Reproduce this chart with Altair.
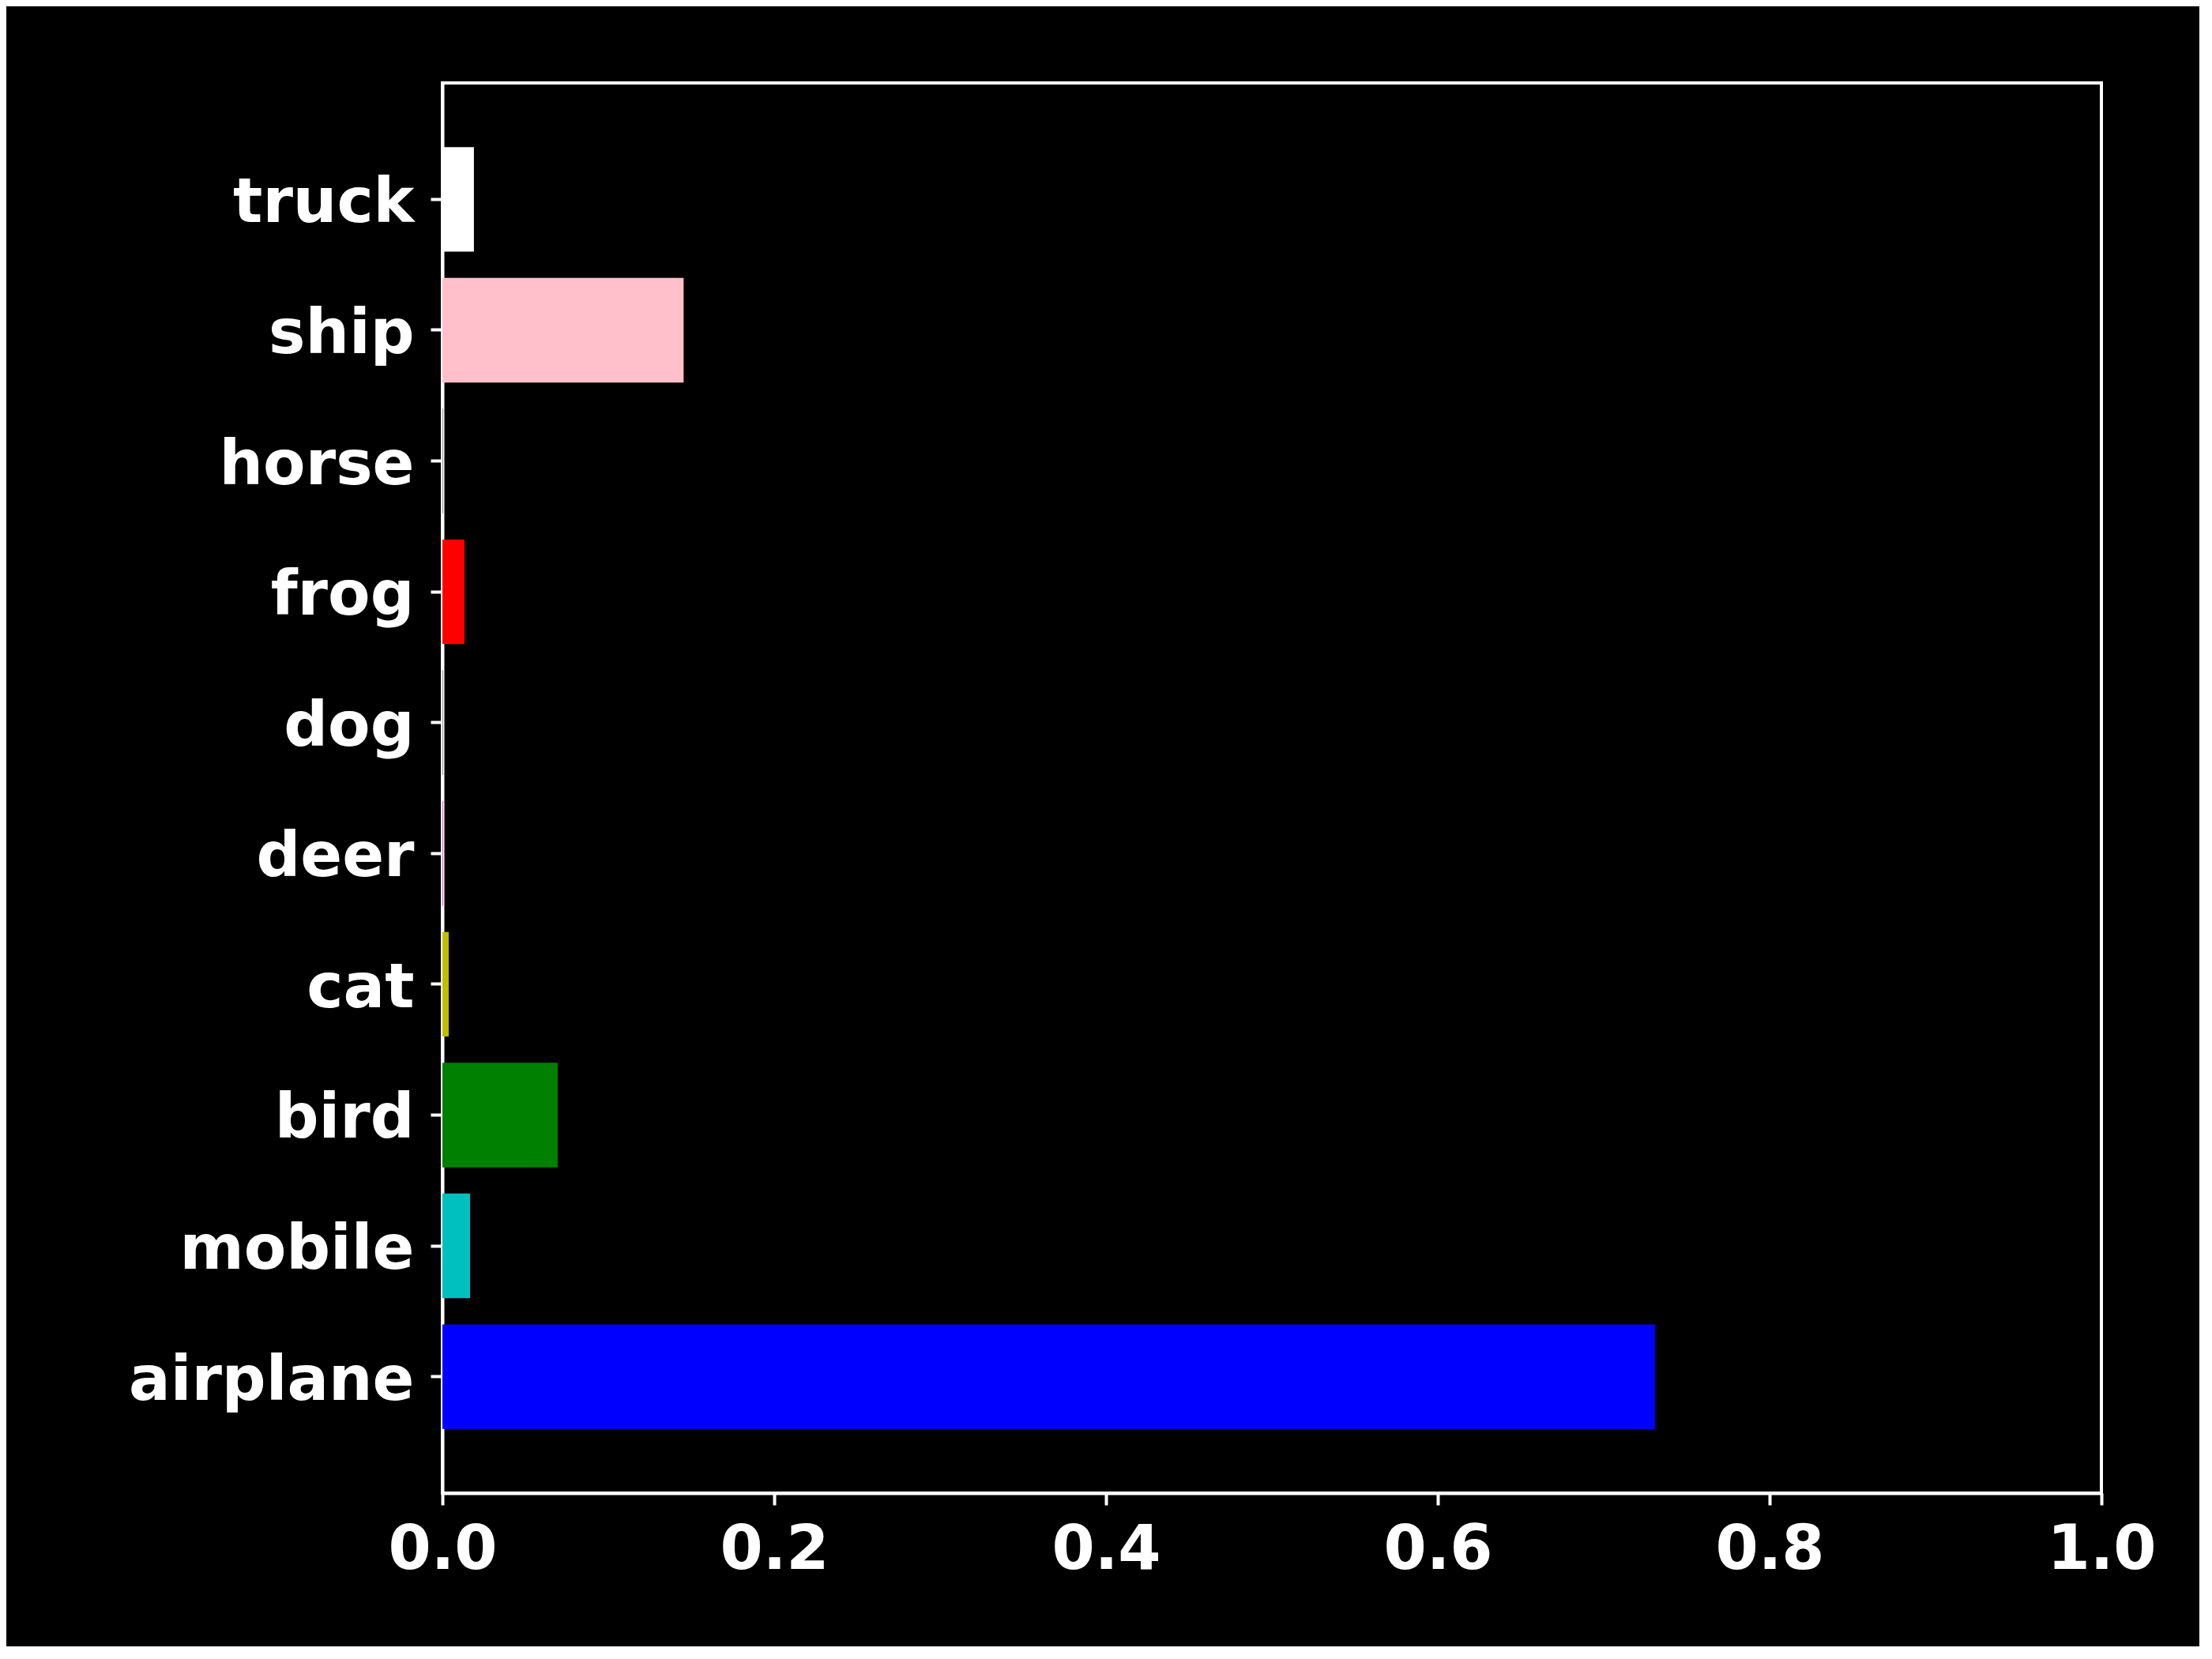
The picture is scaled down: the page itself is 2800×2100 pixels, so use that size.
import altair as alt
import pandas as pd

categories = ["airplane", "mobile", "bird", "cat", "deer", "dog", "frog", "horse", "ship", "truck"]
values = [0.731, 0.0167, 0.0695, 0.0038, 0.0003, 0.0002, 0.0133, 0.0002, 0.1454, 0.019]
colors = ["#0000ff", "#00bfbf", "#008000", "#bfbf00", "#bf00bf", "#000000", "#ff0000", "#000000", "#ffc0cb", "#ffffff"]
x_ticks = [0.0, 0.2, 0.4, 0.6, 0.8, 1.0]

df = pd.DataFrame({"category": categories, "prob": values, "color": colors})

font = "DejaVu Sans"

chart = alt.Chart(df).mark_bar().encode(
    y=alt.Y(
        "category:N",
        sort=list(reversed(categories)),
        scale=alt.Scale(paddingInner=0.2, paddingOuter=0.49),
        axis=alt.Axis(
            title=None,
            labelFont=font,
            labelFontSize=78,
            labelFontWeight="bold",
            labelColor="white",
            labelPadding=21,
            labelLimit=0,
            labelOffset=6,
            tickColor="white",
            tickWidth=4,
            tickSize=15,
            domainColor="white",
            domainWidth=4,
            grid=False,
        ),
    ),
    x=alt.X(
        "prob:Q",
        scale=alt.Scale(domain=[0, 1], nice=False, zero=True),
        axis=alt.Axis(
            title=None,
            values=x_ticks,
            format=".1f",
            labelFont=font,
            labelFontSize=78,
            labelFontWeight="bold",
            labelColor="white",
            labelPadding=18,
            tickColor="white",
            tickWidth=4,
            tickSize=15,
            domainColor="white",
            domainWidth=4,
            grid=False,
            labelFlush=False,
        ),
    ),
    color=alt.Color("color:N", scale=None, legend=None),
).properties(
    width=2100,
    height=1785,
    autosize=alt.AutoSizeParams(type="none"),
    padding={"left": 552, "top": 97, "right": 124, "bottom": 194},
    background="black",
).configure_view(
    stroke="white",
    strokeWidth=4,
)

chart.save("out.html", embed_options={"renderer": "svg", "actions": False})
